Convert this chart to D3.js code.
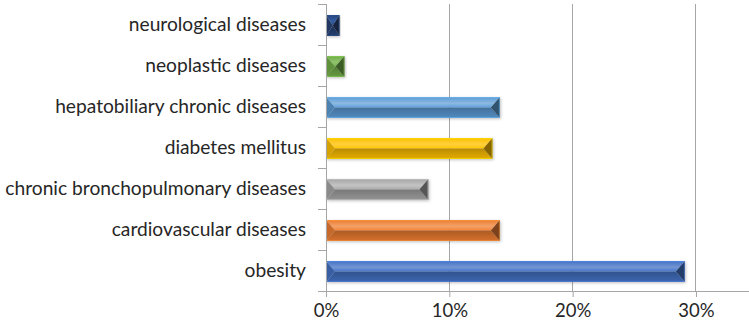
<!DOCTYPE html>
<html>
<head>
<meta charset="utf-8">
<script src="https://cdn.jsdelivr.net/npm/d3@7"></script>
<style>
  html, body { margin: 0; padding: 0; background: #fff; }
  svg { display: block; }
  text { font-family: Lato, "Open Sans", sans-serif; fill: #262626; }
</style>
</head>
<body>
<svg id="chart" width="749" height="329"></svg>
<script>
// Categories listed from bottom to top of the chart
const categories = [
  "obesity",
  "cardiovascular diseases",
  "chronic bronchopulmonary diseases",
  "diabetes mellitus",
  "hepatobiliary chronic diseases",
  "neoplastic diseases",
  "neurological diseases"
];
const values = [29.1, 14.1, 8.3, 13.5, 14.1, 1.5, 1.1];
const colors = ["#4472C4", "#ED7D31", "#A5A5A5", "#FFC000", "#5B9BD5", "#70AD47", "#264478"];
const xTicks = [0, 10, 20, 30];

const svg = d3.select("#chart");
const plotL = 326, plotR = 749, plotT = 4, plotB = 291;

const x = d3.scaleLinear().domain([0, 34.3]).range([plotL, plotR]);
const y = d3.scaleBand()
  .domain(categories.slice().reverse())
  .range([plotT, plotB])
  .paddingInner(0)
  .paddingOuter(0);

const defs = svg.append("defs");
const shadow = defs.append("filter").attr("id", "shadow")
  .attr("x", "-10%").attr("y", "-50%").attr("width", "120%").attr("height", "200%");
shadow.append("feGaussianBlur").attr("in", "SourceAlpha").attr("stdDeviation", 1.6);
shadow.append("feOffset").attr("dx", 1).attr("dy", 1).attr("result", "b");
shadow.append("feComponentTransfer").append("feFuncA").attr("type", "linear").attr("slope", 0.25);
const merge = shadow.append("feMerge");
merge.append("feMergeNode");
merge.append("feMergeNode").attr("in", "SourceGraphic");

// Gridlines
svg.append("g").selectAll("line")
  .data(xTicks.filter(d => d > 0))
  .join("line")
  .attr("x1", d => x(d)).attr("x2", d => x(d))
  .attr("y1", plotT).attr("y2", plotB)
  .attr("stroke", "#a6a6a6").attr("stroke-width", 1)
  .attr("shape-rendering", "crispEdges");

// Beveled bars
const barH = 21;
const bars = svg.append("g").selectAll("g.bar")
  .data(categories.map((c, i) => ({ c, v: values[i], col: colors[i] })))
  .join("g").attr("class", "bar").attr("filter", "url(#shadow)");

bars.each(function (d) {
  const g = d3.select(this);
  const x0 = x(0), x1 = x(d.v);
  const y0 = y(d.c) + (y.bandwidth() - barH) / 2 + 1, y1 = y0 + barH, ym = (y0 + y1) / 2;
  const b = Math.min(9, (x1 - x0) / 2);
  const base = d3.color(d.col);
  const hsl = d3.hsl(d.col);
  const light = d3.hsl(hsl.h, hsl.s, Math.min(0.85, hsl.l + 0.12)).toString();
  const mid = base.toString();
  const dark = base.darker(0.9).toString();
  const darkest = base.darker(1.8).toString();

  const id = "g" + categories.indexOf(d.c);
  const gt = defs.append("linearGradient").attr("id", id + "t")
    .attr("x1", 0).attr("y1", 0).attr("x2", 0).attr("y2", 1);
  gt.append("stop").attr("offset", "0%").attr("stop-color", mid);
  gt.append("stop").attr("offset", "60%").attr("stop-color", light);
  gt.append("stop").attr("offset", "100%").attr("stop-color", base.brighter(0.1).toString());
  const gb = defs.append("linearGradient").attr("id", id + "b")
    .attr("x1", 0).attr("y1", 0).attr("x2", 0).attr("y2", 1);
  gb.append("stop").attr("offset", "0%").attr("stop-color", dark);
  gb.append("stop").attr("offset", "100%").attr("stop-color", base.darker(0.3).toString());

  const poly = (pts, fill) => g.append("polygon")
    .attr("points", pts.map(p => p.join(",")).join(" "))
    .attr("fill", fill);
  poly([[x0, y0], [x1, y0], [x1 - b, ym], [x0 + b, ym]], `url(#${id}t)`);
  poly([[x0, y1], [x1, y1], [x1 - b, ym], [x0 + b, ym]], `url(#${id}b)`);
  poly([[x0, y0], [x0 + b, ym], [x0, y1]], base.darker(0.5).toString());
  poly([[x1, y0], [x1 - b, ym], [x1, y1]], darkest);
  g.append("rect").attr("x", x0 + 0.5).attr("y", y0 + 0.5)
    .attr("width", x1 - x0 - 1).attr("height", barH - 1)
    .attr("fill", "none").attr("stroke", base.brighter(0.6).toString())
    .attr("stroke-opacity", 0.5).attr("stroke-width", 1);
});

// X axis
const xAxis = svg.append("g")
  .attr("transform", `translate(0,${plotB})`)
  .call(d3.axisBottom(x).tickValues(xTicks).tickFormat(d => d + "%").tickSize(6).tickSizeOuter(0).tickPadding(7));
xAxis.select(".domain").attr("stroke", "#a6a6a6").attr("d", `M${plotL},0.5H${plotR}`);
xAxis.selectAll(".tick line").attr("stroke", "#a6a6a6");
xAxis.selectAll(".tick text").attr("font-size", 18.5).style("fill", "#262626")
  .attr("font-family", "Lato, 'Open Sans', sans-serif");

// Y axis
const yAxis = svg.append("g")
  .attr("transform", `translate(${plotL},0)`)
  .call(d3.axisLeft(y).tickSize(0).tickPadding(20));
yAxis.select(".domain").attr("stroke", "#a6a6a6").attr("d", `M0.5,${plotT}V${plotB + 6}`);
yAxis.selectAll(".tick text").attr("font-size", 19.2).style("fill", "#262626")
  .attr("font-family", "Lato, 'Open Sans', sans-serif");

// Category boundary ticks on the vertical axis
const edges = categories.map((c) => y(c)).concat([plotB]);
svg.append("g").selectAll("line")
  .data(edges)
  .join("line")
  .attr("x1", plotL - 8).attr("x2", plotL)
  .attr("y1", d => d).attr("y2", d => d)
  .attr("stroke", "#a6a6a6").attr("shape-rendering", "crispEdges");
</script>
</body>
</html>
